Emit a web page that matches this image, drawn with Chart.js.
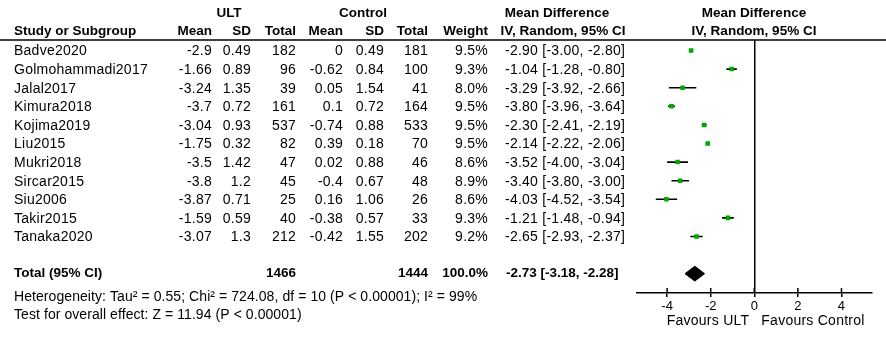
<!DOCTYPE html>
<html>
<head>
<meta charset="utf-8">
<script src="https://cdn.jsdelivr.net/npm/chart.js@4.4.1/dist/chart.umd.min.js"></script>
<style>
  html, body { margin: 0; padding: 0; background: #fff; }
  #forest { display: block; }
</style>
</head>
<body>
<canvas id="forest" width="886" height="341"></canvas>
<script>
// study data
const studies = ['Badve2020', 'Golmohammadi2017', 'Jalal2017', 'Kimura2018', 'Kojima2019', 'Liu2015',
  'Mukri2018', 'Sircar2015', 'Siu2006', 'Takir2015', 'Tanaka2020'];
const ultMean = [-2.9, -1.66, -3.24, -3.7, -3.04, -1.75, -3.5, -3.8, -3.87, -1.59, -3.07];
const ultSD = [0.49, 0.89, 1.35, 0.72, 0.93, 0.32, 1.42, 1.2, 0.71, 0.59, 1.3];
const ultTotal = [182, 96, 39, 161, 537, 82, 47, 45, 25, 40, 212];
const ctlMean = [0, -0.62, 0.05, 0.1, -0.74, 0.39, 0.02, -0.4, 0.16, -0.38, -0.42];
const ctlSD = [0.49, 0.84, 1.54, 0.72, 0.88, 0.18, 0.88, 0.67, 1.06, 0.57, 1.55];
const ctlTotal = [181, 100, 41, 164, 533, 70, 46, 48, 26, 33, 202];
const weights = [9.5, 9.3, 8.0, 9.5, 9.5, 9.5, 8.6, 8.9, 8.6, 9.3, 9.2];
const md = [-2.90, -1.04, -3.29, -3.80, -2.30, -2.14, -3.52, -3.40, -4.03, -1.21, -2.65];
const ciLow = [-3.00, -1.28, -3.92, -3.96, -2.41, -2.22, -4.00, -3.80, -4.52, -1.48, -2.93];
const ciHigh = [-2.80, -0.80, -2.66, -3.64, -2.19, -2.06, -3.04, -3.00, -3.54, -0.94, -2.37];

const totalUlt = 1466;
const totalCtl = 1444;
const totalWeight = 100.0;
const totalMd = -2.73;
const totalLow = -3.18;
const totalHigh = -2.28;
const heterogeneity = 'Heterogeneity: Tau\u00b2 = 0.55; Chi\u00b2 = 724.08, df = 10 (P < 0.00001); I\u00b2 = 99%';
const overallTest = 'Test for overall effect: Z = 11.94 (P < 0.00001)';
const xTicks = [-4, -2, 0, 2, 4];

const totalRow = studies.length + 1;
const FONT = '"Liberation Sans", Arial, sans-serif';

const fmtCI = (m, lo, hi) => `${m.toFixed(2)} [${lo.toFixed(2)}, ${hi.toFixed(2)}]`;

// whiskers: one short line per study
const ciSets = studies.map((s, i) => ({
  label: s,
  data: [{ x: ciLow[i], y: i }, { x: ciHigh[i], y: i }],
  showLine: true,
  borderColor: '#000',
  borderWidth: 1.6,
  pointRadius: 0,
  order: 2
}));

const tablePlugin = {
  id: 'table',
  afterDraw(chart) {
    const ctx = chart.ctx;
    const y = chart.scales.y;
    const x = chart.scales.x;
    const area = chart.chartArea;
    ctx.save();
    ctx.fillStyle = '#000';
    ctx.textBaseline = 'middle';

    const put = (t, px, py, align, bold, spacing) => {
      ctx.font = (bold ? 'bold 13.5px ' : '14px ') + FONT;
      ctx.letterSpacing = bold ? '0px' : (spacing || '0.25px');
      ctx.textAlign = align;
      ctx.fillText(t, px, py);
    };

    // header
    put('ULT', 229, 13, 'center', true);
    put('Control', 363, 13, 'center', true);
    put('Mean Difference', 557, 13, 'center', true);
    put('Mean Difference', 754, 13, 'center', true);
    put('Study or Subgroup', 14, 31, 'left', true);
    put('Mean', 212, 31, 'right', true);
    put('SD', 251, 31, 'right', true);
    put('Total', 296, 31, 'right', true);
    put('Mean', 343, 31, 'right', true);
    put('SD', 384, 31, 'right', true);
    put('Total', 428, 31, 'right', true);
    put('Weight', 488, 31, 'right', true);
    put('IV, Random, 95% CI', 563, 31, 'center', true);
    put('IV, Random, 95% CI', 754, 31, 'center', true);

    ctx.strokeStyle = '#000';
    ctx.lineWidth = 1.5;
    ctx.beginPath();
    ctx.moveTo(0, area.top);
    ctx.lineTo(886, area.top);
    ctx.stroke();

    // rows
    studies.forEach((s, i) => {
      const py = y.getPixelForValue(i) + 1;
      put(s, 14, py, 'left');
      put(String(ultMean[i]), 212, py, 'right');
      put(String(ultSD[i]), 251, py, 'right');
      put(String(ultTotal[i]), 296, py, 'right');
      put(String(ctlMean[i]), 343, py, 'right');
      put(String(ctlSD[i]), 384, py, 'right');
      put(String(ctlTotal[i]), 428, py, 'right');
      put(weights[i].toFixed(1) + '%', 488, py, 'right');
      put(fmtCI(md[i], ciLow[i], ciHigh[i]), 505, py, 'left');
    });

    const ty = y.getPixelForValue(totalRow);
    put('Total (95% CI)', 14, ty, 'left', true);
    put(String(totalUlt), 296, ty, 'right', true);
    put(String(totalCtl), 428, ty, 'right', true);
    put(totalWeight.toFixed(1) + '%', 488, ty, 'right', true);
    put(fmtCI(totalMd, totalLow, totalHigh), 506, ty, 'left', true);

    put(heterogeneity, 14, 297, 'left', false, '0.07px');
    put(overallTest, 14, 315, 'left', false, '0.07px');

    // upper half of the axis ticks
    ctx.lineWidth = 1.5;
    xTicks.forEach(v => {
      const px = x.getPixelForValue(v);
      ctx.beginPath();
      ctx.moveTo(px, area.bottom - 5);
      ctx.lineTo(px, area.bottom);
      ctx.stroke();
    });

    const x0 = x.getPixelForValue(0);
    put('Favours ULT', x0 - 5, 321, 'right');
    put('Favours Control', x0 + 7, 321, 'left');
    ctx.restore();
  }
};

new Chart(document.getElementById('forest'), {
  type: 'scatter',
  data: {
    datasets: [
      {
        label: 'Mean difference',
        data: studies.map((s, i) => ({ x: md[i], y: i })),
        pointStyle: 'rect',
        pointRadius: 3.2,
        backgroundColor: '#00a800',
        borderColor: '#00a800',
        borderWidth: 0,
        order: 0
      },
      {
        label: 'Total',
        data: [
          { x: totalLow, y: totalRow },
          { x: totalMd, y: totalRow - 0.4 },
          { x: totalHigh, y: totalRow },
          { x: totalMd, y: totalRow + 0.4 },
          { x: totalLow, y: totalRow }
        ],
        showLine: true,
        fill: 'shape',
        backgroundColor: '#000',
        borderColor: '#000',
        borderWidth: 1,
        pointRadius: 0,
        tension: 0,
        order: 1
      },
      ...ciSets
    ]
  },
  options: {
    responsive: false,
    devicePixelRatio: 1,
    animation: false,
    layout: { padding: { left: 636.6, right: 14, top: 40, bottom: 0 } },
    plugins: { legend: { display: false }, tooltip: { enabled: false } },
    scales: {
      x: {
        min: -5.4,
        max: 5.4,
        afterBuildTicks: s => { s.ticks = xTicks.map(v => ({ value: v })); },
        afterFit: s => { s.height = 48; },
        border: { display: true, color: '#000', width: 1.5 },
        grid: {
          drawOnChartArea: true,
          color: c => (c.tick && c.tick.value === 0 ? '#000' : 'rgba(0,0,0,0)'),
          lineWidth: 1.5,
          tickColor: '#000',
          tickLength: 4
        },
        ticks: { color: '#000', font: { family: FONT, size: 13 }, padding: 2, maxRotation: 0 }
      },
      y: {
        display: false,
        reverse: true,
        min: -0.565,
        max: 13.04
      }
    }
  },
  plugins: [tablePlugin]
});
</script>
</body>
</html>
